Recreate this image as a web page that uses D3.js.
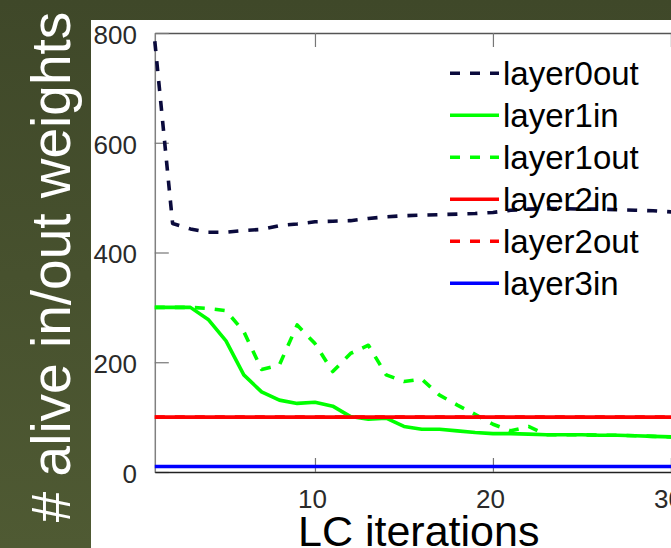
<!DOCTYPE html>
<html>
<head>
<meta charset="utf-8">
<script src="https://cdn.jsdelivr.net/npm/d3@7"></script>
<style>
  html, body { margin: 0; padding: 0; background: #ffffff; }
  svg { display: block; }
  text { font-family: "Liberation Sans", Arial, Helvetica, sans-serif; }
</style>
</head>
<body>
<svg id="chart" width="671" height="548"></svg>
<script>
// ---- data ----
const iterations = [1,2,3,4,5,6,7,8,9,10,11,12,13,14,15,16,17,18,19,20,21,22,23,24,25,26,27,28,29,30,31];
const layer0out = [785,453,443,437,437,440,442,449,452,456,457,458,462,465,467,468,469,470,471,473,477,479,480,480,479,479,478,477,476,474,473];
const layer1in  = [300,300,300,278,239,177,146,131,125,127,120,101,96,98,83,78,78,75,72,70,70,69,68,68,68,67,67,66,65,64,64];
const layer1out = [300,300,300,298,294,256,187,195,268,234,183,216,231,177,165,169,140,122,105,87,75,83,68,68,68,67,67,66,65,64,64];
const layer2in  = [100,100,100,100,100,100,100,100,100,100,100,100,100,100,100,100,100,100,100,100,100,100,100,100,100,100,100,100,100,100,100];
const layer2out = [100,100,100,100,100,100,100,100,100,100,100,100,100,100,100,100,100,100,100,100,100,100,100,100,100,100,100,100,100,100,100];
const layer3in  = [10,10,10,10,10,10,10,10,10,10,10,10,10,10,10,10,10,10,10,10,10,10,10,10,10,10,10,10,10,10,10];
const seriesNames = ["layer0out","layer1in","layer1out","layer2in","layer2out","layer3in"];
const seriesValues = [layer0out, layer1in, layer1out, layer2in, layer2out, layer3in];
const seriesColors = ["#0a0a3c","#00ff00","#00ff00","#ff0000","#ff0000","#0000ff"];
const seriesDashed = [true,false,true,false,true,false];
const xTicks = [10,20,30];
const yTicks = [0,200,400,600,800];
const xLabel = "LC iterations";
const yLabel = "# alive in/out weights";

// ---- layout ----
const svg = d3.select("#chart");
const W = 671, H = 548;
const defs = svg.append("defs");
const grad = defs.append("linearGradient").attr("id","bg").attr("x1",0).attr("y1",0).attr("x2",0).attr("y2",1);
grad.append("stop").attr("offset","0%").attr("stop-color","#3f4829");
grad.append("stop").attr("offset","100%").attr("stop-color","#4f5a33");
svg.append("rect").attr("width",W).attr("height",H).attr("fill","url(#bg)");
svg.append("rect").attr("x",91).attr("y",20).attr("width",W-91).attr("height",H-20).attr("fill","#ffffff");

const x = d3.scaleLinear().domain([1,30]).range([154.8,670.9]);
const y = d3.scaleLinear().domain([0,800]).range([472,33]);

// y label
svg.append("text")
  .attr("transform","translate(70,267) rotate(-90)")
  .attr("text-anchor","middle")
  .attr("font-size",55)
  .attr("fill","#ffffff")
  .text(yLabel);

// x label
svg.append("text")
  .attr("x",298).attr("y",546)
  .attr("font-size",43)
  .attr("fill","#000000")
  .text(xLabel);

// axes
const gTop = svg.append("g").attr("transform",`translate(0,${y(800)})`)
  .call(d3.axisTop(x).tickValues(xTicks).tickSizeInner(-14).tickSizeOuter(0).tickFormat(""));
gTop.select(".domain").attr("stroke","#555").attr("stroke-width",1.5);
gTop.selectAll(".tick line").attr("stroke","#777").attr("stroke-width",1.2);

const gLeft = svg.append("g").attr("transform",`translate(${x(1)},0)`)
  .call(d3.axisLeft(y).tickValues(yTicks).tickSizeInner(-14).tickSizeOuter(0).tickPadding(17.8));
gLeft.select(".domain").attr("stroke","#808080").attr("stroke-width",1.5);
gLeft.selectAll(".tick line").attr("stroke","#777").attr("stroke-width",1.2);
gLeft.selectAll(".tick text").attr("font-size",26).attr("fill","#2a2a2a")
  .attr("font-family","'Liberation Sans', Arial, sans-serif").attr("dy","0.4em");

const gBottom = svg.append("g").attr("transform",`translate(0,${y(0)})`)
  .call(d3.axisBottom(x).tickValues(xTicks).tickSizeInner(-14).tickSizeOuter(0).tickPadding(17.5));
gBottom.select(".domain").attr("stroke","#222").attr("stroke-width",1.5);
gBottom.selectAll(".tick line").attr("stroke","#777").attr("stroke-width",1.2);
gBottom.selectAll(".tick text").attr("font-size",26).attr("fill","#2a2a2a")
  .attr("font-family","'Liberation Sans', Arial, sans-serif").attr("dx","-3");

// lines
const line = d3.line().x((d,i)=>x(iterations[i])).y(d=>y(d));
seriesValues.forEach((vals,k)=>{
  svg.append("path")
    .datum(vals)
    .attr("d",line)
    .attr("fill","none")
    .attr("stroke",seriesColors[k])
    .attr("stroke-width",3.6)
    .attr("stroke-linejoin","round")
    .attr("stroke-dasharray",seriesDashed[k] ? "10,10" : null);
});

// legend
const leg = svg.append("g");
seriesNames.forEach((name,k)=>{
  const cy = 73.3 + k*42;
  leg.append("line")
    .attr("x1",450).attr("x2",499).attr("y1",cy).attr("y2",cy)
    .attr("stroke",seriesColors[k]).attr("stroke-width",3.6)
    .attr("stroke-dasharray",seriesDashed[k] ? "10,10" : null);
  leg.append("text")
    .attr("x",503).attr("y",cy+11.3)
    .attr("font-size",33).attr("fill","#000")
    .text(name);
});
</script>
</body>
</html>
